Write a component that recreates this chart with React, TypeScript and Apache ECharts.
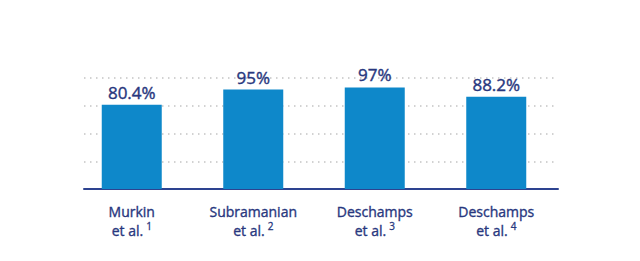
import React, { useEffect, useRef } from "react";
import * as echarts from "echarts";

const categories = ["Murkin", "Subramanian", "Deschamps", "Deschamps"];
const citations = ["1", "2", "3", "4"];
const values = [80.4, 95, 97, 88.2];
const valueLabels = ["80.4%", "95%", "97%", "88.2%"];
const yMin = 0;
const yMax = 106;
const yInterval = 26.5;

const TEXT = "#28377e";
const BAR = "#0e88ca";
const FONT = "'Open Sans', sans-serif";

export default function App() {
  const ref = useRef<HTMLDivElement>(null);
  useEffect(() => {
    document.body.style.margin = "0";
    const chart = echarts.init(ref.current!, null, { renderer: "svg" });
    const idx = categories.map((_, i) => String(i));
    chart.setOption({
      animation: false,
      backgroundColor: "#ffffff",
      grid: [
        { left: 84, width: 474, top: 78, height: 111 },
        { left: 71, width: 486, top: 78, height: 111 },
      ],
      xAxis: [
        {
          gridIndex: 0,
          type: "category",
          data: idx,
          axisLine: { show: true, lineStyle: { color: "#2d4390", width: 2 } },
          axisTick: { show: false },
          axisLabel: { show: false },
          splitLine: { show: false },
        },
        {
          gridIndex: 1,
          type: "category",
          data: idx,
          axisLine: { show: false },
          axisTick: { show: false },
          splitLine: { show: false },
          axisLabel: {
            show: true,
            interval: 0,
            margin: 13,
            color: TEXT,
            fontFamily: FONT,
            fontSize: 14,
            lineHeight: 19,
            textBorderColor: TEXT,
            textBorderWidth: 0.35,
            formatter: (v: string) => `${categories[+v]}\net al.{s|${citations[+v]}}`,
            rich: {
              s: {
                color: TEXT,
                fontFamily: FONT,
                fontSize: 10,
                lineHeight: 10,
                verticalAlign: "top",
                padding: [0, 0, 0, 3],
                textBorderColor: TEXT,
                textBorderWidth: 0.3,
              },
            },
          },
        },
      ],
      yAxis: [
        {
          gridIndex: 0,
          type: "value",
          min: yMin,
          max: yMax,
          interval: yInterval,
          axisLine: { show: false },
          axisTick: { show: false },
          axisLabel: { show: false },
          splitLine: {
            show: true,
            lineStyle: { color: "#c4c4c4", width: 1.5, type: [1.5, 4.5] },
          },
        },
        {
          gridIndex: 1,
          type: "value",
          min: yMin,
          max: yMax,
          show: false,
          splitLine: { show: false },
        },
      ],
      series: [
        {
          type: "bar",
          xAxisIndex: 1,
          yAxisIndex: 1,
          data: values,
          barWidth: 60,
          itemStyle: { color: BAR },
          label: {
            show: true,
            position: "top",
            distance: 4,
            color: TEXT,
            fontFamily: FONT,
            fontSize: 17,
            textBorderColor: TEXT,
            textBorderWidth: 0.4,
            formatter: (p: any) => valueLabels[p.dataIndex],
          },
        },
      ],
    });
    return () => chart.dispose();
  }, []);
  return <div ref={ref} style={{ width: 640, height: 261 }} />;
}
